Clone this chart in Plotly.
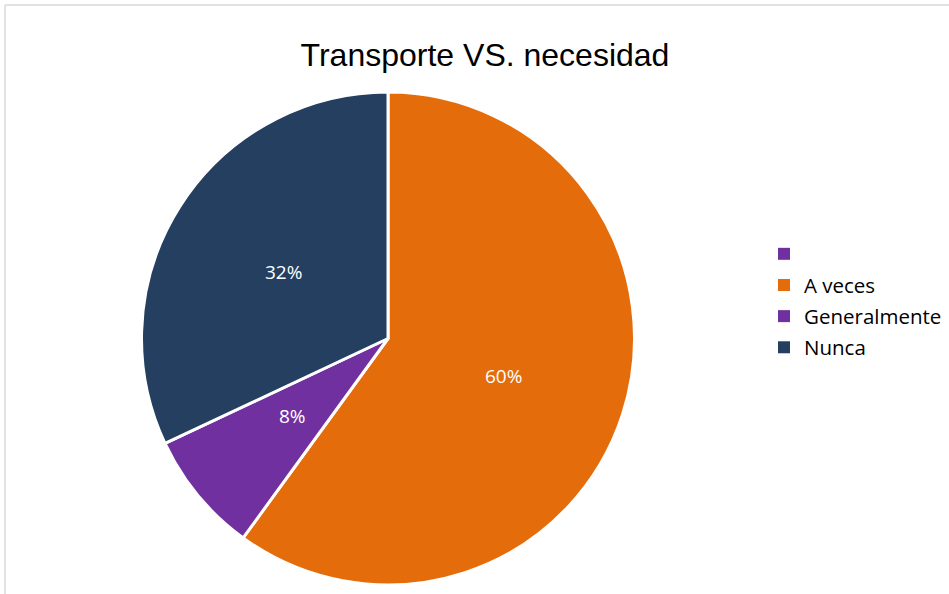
import math
import plotly.graph_objects as go

categories = [" ", "A veces", "Generalmente", "Nunca"]
values = [0, 60, 8, 32]
colors = ["#7030A0", "#E46C0A", "#7030A0", "#243F60"]
title_text = "Transporte VS. necesidad"

W, H = 949, 594
cx, cy, r = 387, 338, 245
dom_cx, dom_cy, dom_r = 388, 338.5, 246.5

fig = go.Figure()
fig.add_trace(go.Pie(
    labels=categories,
    values=values,
    sort=False,
    direction="clockwise",
    rotation=0,
    marker=dict(colors=colors, line=dict(color="white", width=3)),
    textinfo="none",
    hoverinfo="label+percent",
    domain=dict(x=[(dom_cx - dom_r) / W, (dom_cx + dom_r) / W],
                y=[1 - (dom_cy + dom_r) / H, 1 - (dom_cy - dom_r) / H]),
    showlegend=False,
))

# legend entries with square markers
for i, (cat, col) in enumerate(zip(categories, colors)):
    fig.add_trace(go.Scatter(
        x=[None], y=[None], mode="markers", name=cat,
        marker=dict(symbol="square", size=12, color=col),
        legendgroup=f"g{i}", showlegend=True, hoverinfo="skip",
    ))

# percentage labels placed at half radius on each slice's mid angle
total = sum(values)
annotations = []
cum = 0.0
for v in values:
    if v > 0:
        mid = (cum + v / 2) / total * 2 * math.pi
        px = cx + 0.5 * r * math.sin(mid)
        py = cy - 0.5 * r * math.cos(mid)
        annotations.append(dict(
            x=px / W, y=1 - py / H, xref="paper", yref="paper",
            text=f"{round(v / total * 100)}%", showarrow=False,
            font=dict(color="white", size=19, family="Open Sans"),
            xanchor="center", yanchor="middle",
        ))
    cum += v

fig.update_layout(
    width=W, height=H,
    margin=dict(l=0, r=0, t=0, b=0),
    paper_bgcolor="white",
    plot_bgcolor="rgba(0,0,0,0)",
    xaxis=dict(visible=False, domain=[0.9, 0.95]),
    yaxis=dict(visible=False, domain=[0.0, 0.05]),
    title=dict(text=title_text, x=485 / W, xanchor="center", y=1 - 55 / H, yanchor="middle",
               font=dict(family="Liberation Sans, Arial", size=32, color="#000000")),
    legend=dict(x=764 / W, y=1 - 234 / H, xanchor="left", yanchor="top",
                font=dict(family="Open Sans", size=20.5, color="#000000"),
                itemwidth=30, tracegroupgap=1.5, traceorder="grouped"),
    annotations=annotations,
    shapes=[
        dict(type="line", xref="paper", yref="paper", x0=5 / W, x1=1, y0=1 - 5 / H, y1=1 - 5 / H,
             line=dict(color="#D9D9D9", width=1.5)),
        dict(type="line", xref="paper", yref="paper", x0=5 / W, x1=5 / W, y0=0, y1=1 - 5 / H,
             line=dict(color="#D9D9D9", width=1.5)),
    ],
)

fig.write_html("out.html")
